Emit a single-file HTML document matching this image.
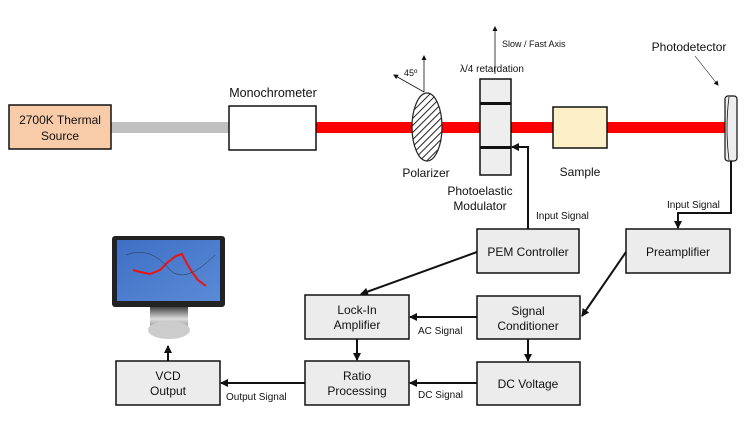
<!DOCTYPE html>
<html><head><meta charset="utf-8"><style>
html,body{margin:0;padding:0;background:#fff}
svg{display:block}
text{font-family:"Liberation Sans",Arial,sans-serif;fill:#111}
</style></head><body>
<svg width="747" height="421" viewBox="0 0 747 421" xmlns="http://www.w3.org/2000/svg">
<defs>
<marker id="a" markerWidth="8" markerHeight="8" refX="7" refY="4" orient="auto" markerUnits="userSpaceOnUse"><path d="M0,0 L8,4 L0,8 z" fill="#111"/></marker>
<marker id="s" markerWidth="5" markerHeight="5" refX="4" refY="2.5" orient="auto" markerUnits="userSpaceOnUse"><path d="M0,0 L5,2.5 L0,5 z" fill="#111"/></marker>
<pattern id="h" width="5" height="5" patternUnits="userSpaceOnUse" patternTransform="rotate(45)"><rect width="5" height="5" fill="#fff"/><line x1="0" y1="0" x2="0" y2="5" stroke="#222" stroke-width="2"/></pattern>
<linearGradient id="scr" x1="0" y1="0" x2="1" y2="1"><stop offset="0" stop-color="#3e6fc4"/><stop offset="1" stop-color="#5b8ad6"/></linearGradient>
<linearGradient id="st" x1="0" y1="0" x2="0" y2="1"><stop offset="0" stop-color="#444"/><stop offset="0.6" stop-color="#ddd"/><stop offset="1" stop-color="#999"/></linearGradient>
</defs>
<rect x="111" y="122" width="118" height="11" fill="#c0c0c0"/>
<rect x="316" y="122" width="410" height="11" fill="#ff0000"/>
<rect x="9" y="105" width="102" height="44" fill="#f8cba9" stroke="#111" stroke-width="1.5"/>
<text x="60" y="124" font-size="12" text-anchor="middle">2700K Thermal</text>
<text x="60" y="140" font-size="12" text-anchor="middle">Source</text>
<rect x="229" y="106" width="87" height="44" fill="#fff" stroke="#111" stroke-width="1.5"/>
<text x="273" y="97" font-size="12.5" text-anchor="middle">Monochrometer</text>
<ellipse cx="427" cy="127" rx="15" ry="34" fill="url(#h)" stroke="#222" stroke-width="1.2"/>
<line x1="424" y1="92" x2="424" y2="56" stroke="#111" stroke-width="0.8" marker-end="url(#s)"/>
<line x1="424" y1="92" x2="394" y2="75" stroke="#111" stroke-width="0.8" marker-end="url(#s)"/>
<text x="404" y="76" font-size="9">45º</text>
<text x="426" y="177" font-size="12" text-anchor="middle">Polarizer</text>
<rect x="480" y="79" width="31" height="96" fill="#eee" stroke="#111" stroke-width="1.5"/>
<rect x="480" y="102" width="31" height="3" fill="#111"/>
<rect x="480" y="146" width="31" height="3" fill="#111"/>
<line x1="495" y1="74" x2="495" y2="27" stroke="#111" stroke-width="0.8" marker-end="url(#s)"/>
<text x="502" y="47" font-size="9">Slow / Fast Axis</text>
<text x="460" y="72" font-size="10">λ/4 retardation</text>
<text x="480" y="195" font-size="12" text-anchor="middle">Photoelastic</text>
<text x="480" y="210" font-size="12" text-anchor="middle">Modulator</text>
<rect x="553" y="107" width="54" height="41" fill="#fdf0c8" stroke="#111" stroke-width="1.5"/>
<text x="580" y="176" font-size="12" text-anchor="middle">Sample</text>
<rect x="725" y="96" width="12" height="65" rx="3" fill="#eee" stroke="#111" stroke-width="1.2"/>
<path d="M729,97 Q725,128 729,160" fill="none" stroke="#111" stroke-width="0.8"/>
<text x="689" y="51" font-size="12" text-anchor="middle">Photodetector</text>
<line x1="695" y1="56" x2="718" y2="85" stroke="#111" stroke-width="0.6" marker-end="url(#s)"/>
<g fill="#ececec" stroke="#111" stroke-width="1.5">
<rect x="477" y="229" width="102" height="44"/>
<rect x="626" y="229" width="104" height="44"/>
<rect x="305" y="295" width="104" height="44"/>
<rect x="477" y="296" width="103" height="43"/>
<rect x="305" y="361" width="104" height="44"/>
<rect x="477" y="362" width="103" height="43"/>
<rect x="116" y="361" width="104" height="44"/>
</g>
<g font-size="12" text-anchor="middle">
<text x="528" y="256">PEM Controller</text>
<text x="678" y="256">Preamplifier</text>
<text x="357" y="314">Lock-In</text>
<text x="357" y="329">Amplifier</text>
<text x="528" y="315">Signal</text>
<text x="528" y="330">Conditioner</text>
<text x="357" y="380">Ratio</text>
<text x="357" y="395">Processing</text>
<text x="528" y="388">DC Voltage</text>
<text x="168" y="380">VCD</text>
<text x="168" y="395">Output</text>
</g>
<g stroke="#111" stroke-width="2" fill="none">
<polyline points="528,229 528,147 512,147" marker-end="url(#a)"/>
<polyline points="731,161 731,213 678,213 678,228" marker-end="url(#a)"/>
<line x1="477" y1="252" x2="361" y2="294" marker-end="url(#a)"/>
<line x1="626" y1="252" x2="582" y2="316" marker-end="url(#a)"/>
<line x1="477" y1="317" x2="410" y2="317" marker-end="url(#a)"/>
<line x1="528" y1="339" x2="528" y2="361" marker-end="url(#a)"/>
<line x1="357" y1="339" x2="357" y2="360" marker-end="url(#a)"/>
<line x1="477" y1="383" x2="410" y2="383" marker-end="url(#a)"/>
<line x1="305" y1="383" x2="221" y2="383" marker-end="url(#a)"/>
<line x1="168" y1="361" x2="168" y2="346" marker-end="url(#a)"/>
</g>
<g font-size="10">
<text x="536" y="219">Input Signal</text>
<text x="667" y="208">Input Signal</text>
<text x="418" y="334">AC Signal</text>
<text x="418" y="398">DC Signal</text>
<text x="226" y="400">Output Signal</text>
</g>
<rect x="112" y="236" width="113" height="71" rx="3" fill="#222"/>
<rect x="117" y="240" width="103" height="61" fill="url(#scr)"/>
<path d="M133,270 L140,272 L150,274 L160,270 L168,262 L176,256 L182,254 L186,262 L192,272 L198,280 L206,286" fill="none" stroke="#e11" stroke-width="2"/>
<path d="M126,255 Q150,245 170,270 Q185,285 215,255" fill="none" stroke="#234" stroke-width="0.5"/>
<rect x="150" y="307" width="38" height="20" fill="url(#st)"/>
<ellipse cx="169" cy="330" rx="21" ry="9" fill="#ccc"/>
</svg>
</body></html>
